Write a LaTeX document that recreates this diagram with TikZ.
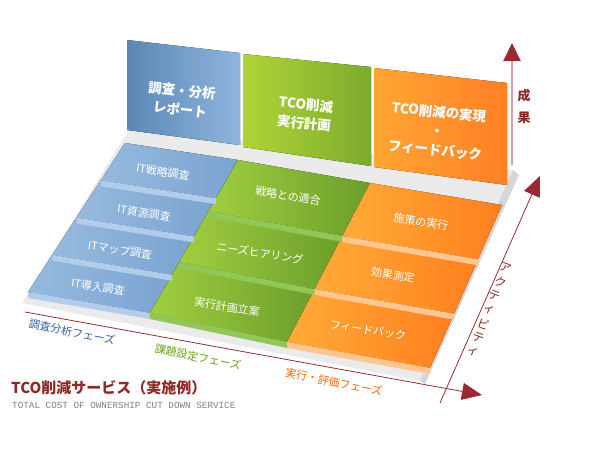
\documentclass[tikz,border=0pt]{standalone}
\usepackage{fontspec}
\setmainfont{Noto Sans CJK JP}
\newfontfamily\pixfont{Liberation Mono}
\usetikzlibrary{arrows.meta,calc}
\definecolor{axisred}{rgb}{0.60, 0.17, 0.19}
\definecolor{axispink}{rgb}{0.85, 0.62, 0.65}
\definecolor{titlered}{rgb}{0.55, 0.16, 0.16}
\definecolor{phaseblue}{rgb}{0.20, 0.38, 0.62}
\definecolor{phasegreen}{rgb}{0.42, 0.62, 0.10}
\definecolor{phaseorange}{rgb}{1.00, 0.40, 0.00}
\definecolor{pbluel}{rgb}{0.36, 0.53, 0.71}
\definecolor{pbluer}{rgb}{0.56, 0.71, 0.87}
\definecolor{pgreenl}{rgb}{0.69, 0.83, 0.21}
\definecolor{pgreenr}{rgb}{0.49, 0.67, 0.18}
\definecolor{porangel}{rgb}{1.00, 0.65, 0.20}
\definecolor{poranger}{rgb}{1.00, 0.50, 0.15}
\definecolor{tbluel}{rgb}{0.59, 0.73, 0.87}
\definecolor{tbluer}{rgb}{0.48, 0.64, 0.82}
\definecolor{tbluestrip}{rgb}{0.70, 0.80, 0.92}
\definecolor{tgreenl}{rgb}{0.63, 0.81, 0.25}
\definecolor{tgreenr}{rgb}{0.42, 0.62, 0.17}
\definecolor{tgreenstrip}{rgb}{0.57, 0.78, 0.34}
\definecolor{torangel}{rgb}{1.00, 0.67, 0.22}
\definecolor{toranger}{rgb}{1.00, 0.50, 0.12}
\definecolor{torangestrip}{rgb}{1.00, 0.78, 0.56}
\definecolor{floorgray}{rgb}{0.92, 0.92, 0.92}
\definecolor{floorside}{rgb}{0.84, 0.84, 0.84}
\tikzset{
    panellabel/.style={text=white, align=center, font=\fontsize{13.5}{19}\selectfont\bfseries, rotate=-6},
    tilelabel/.style={text=white, font=\fontsize{11}{13}\selectfont, rotate=-9},
    phaselabel/.style={font=\fontsize{11}{13}\selectfont, rotate=-11},
    axis/.style={axisred, line width=0.8pt, -{Triangle[width=17pt, length=20pt]}}
}

\begin{document}
\begin{tikzpicture}[x=1pt, y=-1pt]
    \useasboundingbox (0,0) rectangle (590,450);

    % floor corners, front and back
    \coordinate (F0) at (28,292);  \coordinate (B0) at (125,143);
    \coordinate (F1) at (150,313); \coordinate (B1) at (238,160);
    \coordinate (F2) at (287,342); \coordinate (B2) at (370,183);
    \coordinate (F3) at (430,368); \coordinate (B3) at (502,205);

    % platform
    \fill[floorgray] (22,303) -- (420,381) -- (513,170) -- (130,128) -- cycle;
    \fill[floorside] (420,381) -- (513,170) -- (519,175) -- (425,384) -- cycle;

    % result panels
    \fill[left color=pbluel, right color=pbluer] (127,40) -- (240,53) -- (240,145) -- (127,130) -- cycle;
    \fill[left color=pgreenl, right color=pgreenr] (243,54) -- (371,67) -- (371,166) -- (243,147) -- cycle;
    \fill[left color=porangel, right color=poranger] (374,68) -- (507,83) -- (507,185) -- (374,167) -- cycle;

    % tiles
    \foreach \c/\cc/\n/\lc/\rc in {0/1/4/tbluel/tbluer, 1/2/3/tgreenl/tgreenr, 2/3/3/torangel/toranger} {
        \foreach \r in {1,...,\n} {
            \pgfmathsetmacro\va{(\r-1)/\n}
            \pgfmathsetmacro\vb{\r/\n}
            \fill[left color=\lc, right color=\rc]
                ($(F\c)!\vb!(B\c)$) -- ($(F\cc)!\vb!(B\cc)$) -- ($(F\cc)!\va!(B\cc)$) -- ($(F\c)!\va!(B\c)$) -- cycle;
        }
    }
    \foreach \c/\cc/\n/\sc in {0/1/4/tbluestrip, 1/2/3/tgreenstrip, 2/3/3/torangestrip} {
        \foreach \r in {1,...,\n} {
            \pgfmathsetmacro\va{(\r-1)/\n}
            \fill[\sc]
                ($(F\c)!\va!(B\c)$) -- ($(F\cc)!\va!(B\cc)$) -- ++(0,6) -- ($($(F\c)!\va!(B\c)$)+(0,6)$) -- cycle;
        }
    }

    % panel texts
    \node[panellabel] (repo) at (181,100) {調査・分析\\レポート};
    \node[panellabel] (plan) at (305,114) {TCO削減\\実行計画};
    \node[panellabel] (real) at (437,131) {TCO削減の実現\\・\\フィードバック};

    % tile texts
    \node[tilelabel] (itA) at (163,172) {IT戦略調査};
    \node[tilelabel] (itB) at (144,213) {IT資源調査};
    \node[tilelabel] (itC) at (120,250) {ITマップ調査};
    \node[tilelabel] (itD) at (98,287) {IT導入調査};
    \node[tilelabel] (grA) at (288,196) {戦略との適合};
    \node[tilelabel] (grB) at (260,253) {ニーズヒアリング};
    \node[tilelabel] (grC) at (227,307) {実行計画立案};
    \node[tilelabel] (orA) at (421,222) {施策の実行};
    \node[tilelabel] (orB) at (393,275) {効果測定};
    \node[tilelabel] (orC) at (368,330) {フィードバック};

    % axes
    \draw[axis] (25,312) coordinate (fa) -- (482,395) coordinate (fb);
    \draw[axis] (440,403) coordinate (ra) -- (540,176) coordinate (rb);
    \draw[axispink, line width=2pt, -{Triangle[width=17pt, length=18pt, color=axisred]}]
        (512,165) coordinate (va) -- (512,43) coordinate (vb);

    \node[titlered, font=\fontsize{13}{22}\selectfont\bfseries, align=center] (seika) at (524,106) {成\\果};
    \foreach \ch [count=\i] in {ア,ク,テ,ィ,ビ,テ,ィ} {
        \node[titlered, font=\fontsize{12}{12}\selectfont, rotate=-21, inner sep=0pt]
            (act\i) at ($(506,268)!{(\i-1)/6}!(473,352)$) {\ch};
    }

    % phase texts
    \node[phaselabel, phaseblue] (phA) at (72,332) {調査分析フェーズ};
    \node[phaselabel, phasegreen] (phB) at (198,357) {課題設定フェーズ};
    \node[phaselabel, phaseorange] (phC) at (334,382) {実行・評価フェーズ};

    \node[titlered, anchor=west, inner sep=0pt, font=\fontsize{15}{17}\selectfont\bfseries] (title) at (11,388) {TCO削減サービス（実施例）};
    \node[gray, anchor=west, inner sep=0pt, font=\pixfont\fontsize{9.3}{10}\selectfont] (sub) at (12,405) {TOTAL COST OF OWNERSHIP CUT DOWN SERVICE};
\end{tikzpicture}
\end{document}
